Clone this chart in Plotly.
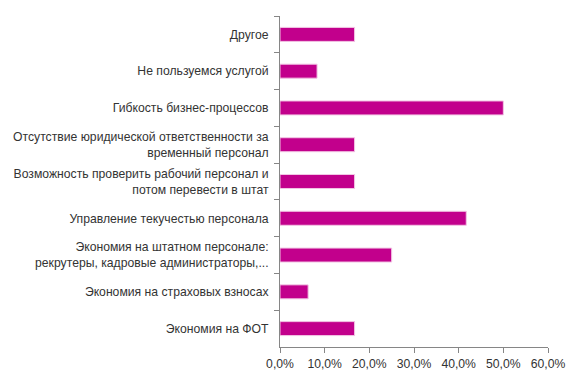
import plotly.graph_objects as go

categories = [
    "Другое",
    "Не пользуемся услугой",
    "Гибкость бизнес-процессов",
    "Отсутствие юридической ответственности за<br>временный персонал",
    "Возможность проверить рабочий персонал и<br>потом перевести в штат",
    "Управление текучестью персонала",
    "Экономия на штатном персонале:<br>рекрутеры, кадровые администраторы,...",
    "Экономия на страховых взносах",
    "Экономия на ФОТ",
]
values = [16.7, 8.3, 50.0, 16.7, 16.7, 41.7, 25.0, 6.3, 16.7]
x_ticks = [0, 10, 20, 30, 40, 50, 60]
x_tick_labels = ["0,0%", "10,0%", "20,0%", "30,0%", "40,0%", "50,0%", "60,0%"]

fig = go.Figure(go.Bar(
    x=values, y=categories, orientation="h",
    marker=dict(color="#C2008C", line=dict(color="#F2C6E4", width=1)),
    width=0.38,
))
fig.update_layout(
    width=581, height=383,
    margin=dict(l=280, r=33, t=16, b=36, autoexpand=False),
    paper_bgcolor="white", plot_bgcolor="white",
    font=dict(family="Liberation Sans, Arial, sans-serif", size=12.2, color="#333333"),
    showlegend=False,
    bargap=0.62,
)
fig.update_xaxes(
    range=[0, 60], tickvals=x_ticks, ticktext=x_tick_labels,
    showgrid=False, zeroline=False, showline=True, linecolor="#868686", linewidth=1,
    ticks="outside", ticklen=5, tickcolor="#868686", automargin=False,
)
fig.update_yaxes(
    autorange="reversed", showgrid=False, zeroline=False, automargin=False,
    showline=True, linecolor="#868686", linewidth=1,
    ticks="outside", ticklen=5, tickcolor="#868686", tickson="boundaries",
    ticklabelstandoff=8,
)
fig.write_html("out.html", config={"displayModeBar": False},
               post_script="document.body.style.margin='0';")
